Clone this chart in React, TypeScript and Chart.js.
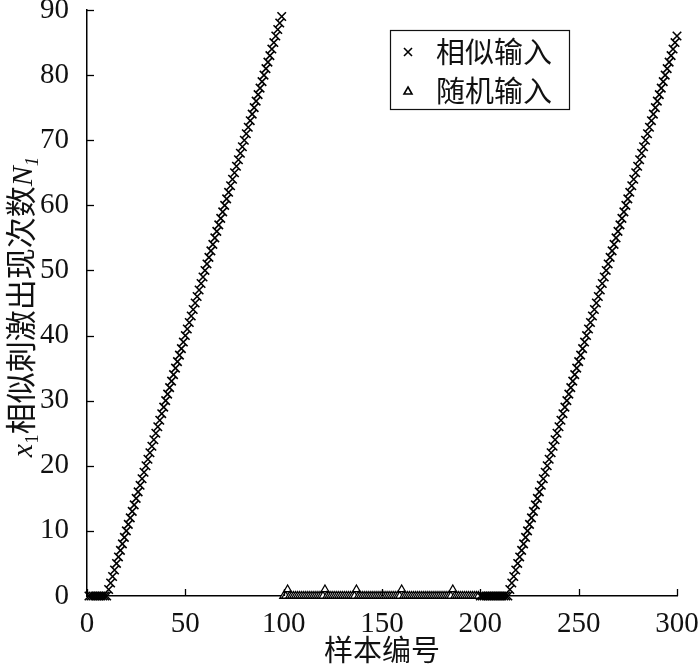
import React, { useEffect, useRef } from "react";
import { Chart, registerables } from "chart.js";

Chart.register(...registerables);

// ---- data ----
const similarLabel = "相似输入";
const randomLabel = "随机输入";
const xTitle = "样本编号";
const yTitleCJK = "相似刺激出现次数";

// sample numbers where each block starts
const similarStart1 = 1;
const randomStart = 100;
const similarStart2 = 200;

// N1 counts, similar input block 1 (samples 1..99)
const similarCounts1 = [
  0, 0, 0, 0, 0, 0, 0, 0, 0, 0,
  1, 2, 3, 4, 5, 6, 7, 8, 9, 10, 11, 12, 13, 14, 15, 16, 17, 18, 19, 20,
  21, 22, 23, 24, 25, 26, 27, 28, 29, 30, 31, 32, 33, 34, 35, 36, 37, 38, 39, 40,
  41, 42, 43, 44, 45, 46, 47, 48, 49, 50, 51, 52, 53, 54, 55, 56, 57, 58, 59, 60,
  61, 62, 63, 64, 65, 66, 67, 68, 69, 70, 71, 72, 73, 74, 75, 76, 77, 78, 79, 80,
  81, 82, 83, 84, 85, 86, 87, 88, 89,
];

// N1 counts, random input block (samples 100..199)
const randomCounts = [
  0, 0, 1, 0, 0, 0, 0, 0, 0, 0,
  0, 0, 0, 0, 0, 0, 0, 0, 0, 0,
  0, 1, 0, 0, 0, 0, 0, 0, 0, 0,
  0, 0, 0, 0, 0, 0, 0, 1, 0, 0,
  0, 0, 0, 0, 0, 0, 0, 0, 0, 0,
  0, 0, 0, 0, 0, 0, 0, 0, 0, 0,
  1, 0, 0, 0, 0, 0, 0, 0, 0, 0,
  0, 0, 0, 0, 0, 0, 0, 0, 0, 0,
  0, 0, 0, 0, 0, 0, 1, 0, 0, 0,
  0, 0, 0, 0, 0, 0, 0, 0, 0, 0,
];

// N1 counts, similar input block 2 (samples 200..300)
const similarCounts2 = [
  0, 0, 0, 0, 0, 0, 0, 0, 0, 0, 0, 0, 0, 0, 0,
  1, 2, 3, 4, 5, 6, 7, 8, 9, 10, 11, 12, 13, 14, 15, 16, 17, 18, 19, 20,
  21, 22, 23, 24, 25, 26, 27, 28, 29, 30, 31, 32, 33, 34, 35, 36, 37, 38, 39, 40,
  41, 42, 43, 44, 45, 46, 47, 48, 49, 50, 51, 52, 53, 54, 55, 56, 57, 58, 59, 60,
  61, 62, 63, 64, 65, 66, 67, 68, 69, 70, 71, 72, 73, 74, 75, 76, 77, 78, 79, 80,
  81, 82, 83, 84, 85, 86,
];

const xMin = 0;
const xMax = 300;
const xStep = 50;
const yMin = 0;
const yMax = 90;
const yStep = 10;

const SERIF = '"Liberation Serif", "DejaVu Serif", serif';
const CJK = '"Noto Sans CJK SC", sans-serif';

const toPoints = (start: number, vals: number[]) =>
  vals.map((v, i) => ({ x: start + i, y: v }));

const zeroPadding = (s: any) => {
  s.paddingTop = 0;
  s.paddingBottom = 0;
  s.paddingLeft = 0;
  s.paddingRight = 0;
};

const innerTicks = {
  id: "innerTicks",
  afterDraw(chart: any) {
    const { ctx, chartArea } = chart;
    const xs = chart.scales.x;
    const ys = chart.scales.y;
    ctx.save();
    ctx.strokeStyle = "#000";
    ctx.lineWidth = 1.3;
    xs.ticks.forEach((t: any) => {
      const px = Math.round(xs.getPixelForValue(t.value)) + 0.5;
      ctx.beginPath();
      ctx.moveTo(px, chartArea.bottom);
      ctx.lineTo(px, chartArea.bottom - 7);
      ctx.stroke();
    });
    ys.ticks.forEach((t: any) => {
      const py = Math.round(ys.getPixelForValue(t.value)) + 0.5;
      ctx.beginPath();
      ctx.moveTo(chartArea.left, py);
      ctx.lineTo(chartArea.left + 7, py);
      ctx.stroke();
    });
    ctx.restore();
  },
};

const titles = {
  id: "titles",
  afterDraw(chart: any) {
    const { ctx, chartArea } = chart;
    ctx.save();
    ctx.fillStyle = "#111";
    // x title
    ctx.font = `29px ${CJK}`;
    ctx.textAlign = "center";
    ctx.textBaseline = "middle";
    ctx.fillText(xTitle, (chartArea.left + chartArea.right) / 2, 650);

    // y title (rotated, mixed fonts)
    const pieces = [
      { t: "x", f: `italic 30px ${SERIF}`, dy: 0 },
      { t: "1", f: `19px ${SERIF}`, dy: 6 },
      { t: yTitleCJK, f: `31px ${CJK}`, dy: 0 },
      { t: "N", f: `italic 30px ${SERIF}`, dy: 0 },
      { t: "1", f: `italic 19px ${SERIF}`, dy: 6 },
    ];
    let total = 0;
    const widths = pieces.map((p) => {
      ctx.font = p.f;
      const w = ctx.measureText(p.t).width;
      total += w;
      return w;
    });
    ctx.translate(21, 307);
    ctx.rotate(-Math.PI / 2);
    ctx.textAlign = "left";
    ctx.textBaseline = "alphabetic";
    let cx = -total / 2;
    const base = 11;
    pieces.forEach((p, i) => {
      ctx.font = p.f;
      ctx.fillText(p.t, cx, base + p.dy);
      cx += widths[i];
    });
    ctx.restore();
  },
};

const boxLegend = {
  id: "boxLegend",
  afterDraw(chart: any) {
    const { ctx } = chart;
    const left = 390.5;
    const top = 30.5;
    const w = 179;
    const h = 79;
    ctx.save();
    ctx.fillStyle = "#fff";
    ctx.fillRect(left, top, w, h);
    ctx.strokeStyle = "#111";
    ctx.lineWidth = 1.2;
    ctx.strokeRect(left, top, w, h);
    const rows = [52, 91];
    chart.data.datasets.forEach((ds: any, i: number) => {
      const cy = rows[i];
      const mx = 408;
      ctx.strokeStyle = "#000";
      ctx.lineWidth = 1.6;
      if (ds.pointStyle === "crossRot") {
        ctx.beginPath();
        ctx.moveTo(mx - 4, cy - 4);
        ctx.lineTo(mx + 4, cy + 4);
        ctx.moveTo(mx + 4, cy - 4);
        ctx.lineTo(mx - 4, cy + 4);
        ctx.stroke();
      } else {
        ctx.beginPath();
        ctx.moveTo(mx, cy - 4);
        ctx.lineTo(mx + 4, cy + 3);
        ctx.lineTo(mx - 4, cy + 3);
        ctx.closePath();
        ctx.stroke();
      }
      ctx.fillStyle = "#111";
      ctx.font = `29px ${CJK}`;
      ctx.textAlign = "left";
      ctx.textBaseline = "middle";
      ctx.fillText(ds.label, 436, cy);
    });
    ctx.restore();
  },
};

export default function App() {
  const ref = useRef<HTMLCanvasElement | null>(null);
  useEffect(() => {
    if (!ref.current) return;
    const similarData = [
      ...toPoints(similarStart1, similarCounts1),
      ...toPoints(similarStart2, similarCounts2),
    ];
    const randomData = toPoints(randomStart, randomCounts);
    const chart = new Chart(ref.current, {
      type: "scatter",
      data: {
        datasets: [
          {
            label: similarLabel,
            data: similarData,
            pointStyle: "crossRot",
            pointRadius: 6,
            borderColor: "#000",
            backgroundColor: "#000",
            pointBorderWidth: 1.6,
            clip: false,
          } as any,
          {
            label: randomLabel,
            data: randomData,
            pointStyle: "triangle",
            pointRadius: 4.5,
            borderColor: "#000",
            backgroundColor: "#fff",
            pointBorderWidth: 1.3,
            clip: false,
          } as any,
        ],
      },
      options: {
        animation: false,
        responsive: false,
        devicePixelRatio: 1,
        layout: { padding: { top: 10, right: 23, left: 0, bottom: 0 } },
        plugins: {
          legend: { display: false },
          tooltip: { enabled: false },
        },
        scales: {
          x: {
            type: "linear",
            min: xMin,
            max: xMax,
            grid: { display: false },
            border: { display: true, color: "#000", width: 1.5 },
            ticks: {
              stepSize: xStep,
              padding: 3,
              color: "#111",
              font: { family: SERIF, size: 29 },
              maxRotation: 0,
            },
            afterFit: (s: any) => {
              s.height = 69;
              zeroPadding(s);
            },
          },
          y: {
            type: "linear",
            min: yMin,
            max: yMax,
            grid: { display: false },
            border: { display: true, color: "#000", width: 1.5 },
            ticks: {
              stepSize: yStep,
              padding: 10,
              color: "#111",
              font: { family: SERIF, size: 29 },
            },
            afterFit: (s: any) => {
              s.width = 87;
              zeroPadding(s);
            },
          },
        },
      } as any,
      plugins: [innerTicks, titles, boxLegend],
    });
    return () => chart.destroy();
  }, []);
  return (
    <div style={{ position: "absolute", left: 0, top: 0, width: 700, height: 665, background: "#fff" }}>
      <canvas ref={ref} width={700} height={665} style={{ display: "block" }} />
    </div>
  );
}
